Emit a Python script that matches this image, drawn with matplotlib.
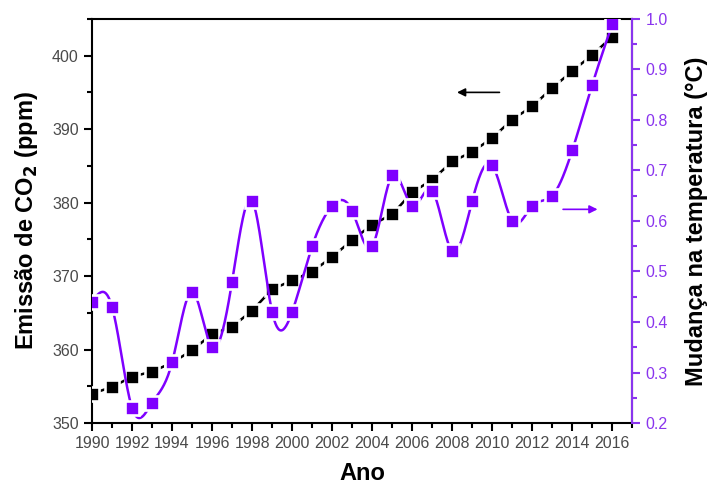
import numpy as np
import matplotlib
matplotlib.use("Agg")
import matplotlib.pyplot as plt
from matplotlib.ticker import MultipleLocator

anos = np.arange(1990, 2017)
co2 = [354.0, 354.9, 356.3, 357.0, 358.2, 359.9, 362.1, 363.1, 365.3, 368.2,
       369.4, 370.6, 372.6, 374.9, 377.0, 378.4, 381.4, 383.1, 385.6, 386.9,
       388.8, 391.3, 393.1, 395.6, 397.9, 400.1, 402.6]
temp = [0.44, 0.43, 0.23, 0.24, 0.32, 0.46, 0.35, 0.48, 0.64, 0.42,
        0.42, 0.55, 0.63, 0.62, 0.55, 0.69, 0.63, 0.66, 0.54, 0.64,
        0.71, 0.60, 0.63, 0.65, 0.74, 0.87, 0.99]

roxo = '#7f00ff'
roxo_eixo = '#8a35ee'
cinza = '#4a4a4a'


def spline_natural(x, y, n=30):
    # cubic spline through every point (natural end conditions)
    x = np.asarray(x, float)
    y = np.asarray(y, float)
    h = np.diff(x)
    m = len(x)
    A = np.zeros((m, m))
    b = np.zeros(m)
    A[0, 0] = A[-1, -1] = 1
    for i in range(1, m - 1):
        A[i, i - 1] = h[i - 1]
        A[i, i] = 2 * (h[i - 1] + h[i])
        A[i, i + 1] = h[i]
        b[i] = 6 * ((y[i + 1] - y[i]) / h[i] - (y[i] - y[i - 1]) / h[i - 1])
    M = np.linalg.solve(A, b)
    xs, ys = [], []
    for i in range(m - 1):
        t = np.linspace(x[i], x[i + 1], n, endpoint=False)
        a = x[i + 1] - t
        c = t - x[i]
        s = (M[i] * a**3 + M[i + 1] * c**3) / (6 * h[i]) \
            + (y[i] / h[i] - M[i] * h[i] / 6) * a \
            + (y[i + 1] / h[i] - M[i + 1] * h[i] / 6) * c
        xs.append(t)
        ys.append(s)
    xs.append([x[-1]])
    ys.append([y[-1]])
    return np.concatenate(xs), np.concatenate(ys)


plt.rcParams['font.family'] = ['Liberation Sans', 'DejaVu Sans']

fig = plt.figure(figsize=(7.1, 4.86), dpi=100)
ax = fig.add_axes([0.1296, 0.1296, 0.761, 0.8315])
ax2 = ax.twinx()

# CO2 series, line broken around each square
ax.plot(anos, co2, color='black', lw=1.8, zorder=2)
ax.plot(anos, co2, ls='none', marker='s', ms=9.8, mfc='black',
        mec='white', mew=1.9, zorder=3)

# temperature series, smooth curve through the points
xs, ys = spline_natural(anos, temp)
ax2.plot(xs, ys, color=roxo, lw=1.8, zorder=2)
ax2.plot(anos, temp, ls='none', marker='s', ms=9.8, mfc=roxo,
         mec='white', mew=1.9, zorder=3)

ax.set_xlim(1990, 2017)
ax.set_ylim(350, 405)
ax2.set_ylim(0.2, 1.0)

ax.xaxis.set_major_locator(MultipleLocator(2))
ax.xaxis.set_minor_locator(MultipleLocator(1))
ax.yaxis.set_major_locator(MultipleLocator(10))
ax.yaxis.set_minor_locator(MultipleLocator(5))
ax2.yaxis.set_major_locator(MultipleLocator(0.1))
ax2.yaxis.set_minor_locator(MultipleLocator(0.05))
ax2.yaxis.set_major_formatter(matplotlib.ticker.FormatStrFormatter('%.1f'))

for a in (ax, ax2):
    for s in a.spines.values():
        s.set_linewidth(1.5)
ax2.spines['right'].set_color(roxo_eixo)
ax2.spines['left'].set_visible(False)
ax2.spines['top'].set_visible(False)
ax2.spines['bottom'].set_visible(False)

ax.tick_params(axis='both', which='major', direction='out', length=6, width=1.5,
               labelsize=11.5, labelcolor=cinza)
ax.tick_params(axis='both', which='minor', direction='out', length=3.5, width=1.5)
ax.tick_params(axis='x', pad=3)
ax2.tick_params(axis='y', which='major', direction='out', length=6, width=1.5,
                colors=roxo_eixo, labelsize=11.5, labelcolor=roxo_eixo)
ax2.tick_params(axis='y', which='minor', direction='out', length=3.5, width=1.5,
                colors=roxo_eixo)

ax.set_xlabel('Ano', fontsize=17, fontweight='bold', labelpad=8)
ax.set_ylabel('Emissão de CO$_\\mathbf{2}$ (ppm)', fontsize=17, fontweight='bold',
              labelpad=9)
ax2.set_ylabel('Mudança na temperatura (°C)', fontsize=17, fontweight='bold',
               labelpad=12)

# arrows pointing to each series' axis
ax.annotate('', xy=(2008.1, 395.0), xytext=(2010.5, 395.0),
            arrowprops=dict(arrowstyle='-|>', color='black', lw=1.2,
                            mutation_scale=12))
ax2.annotate('', xy=(2015.4, 0.623), xytext=(2013.4, 0.623),
             arrowprops=dict(arrowstyle='-|>', color=roxo, lw=1.2,
                             mutation_scale=12))

fig.savefig('out.png', dpi=100)
